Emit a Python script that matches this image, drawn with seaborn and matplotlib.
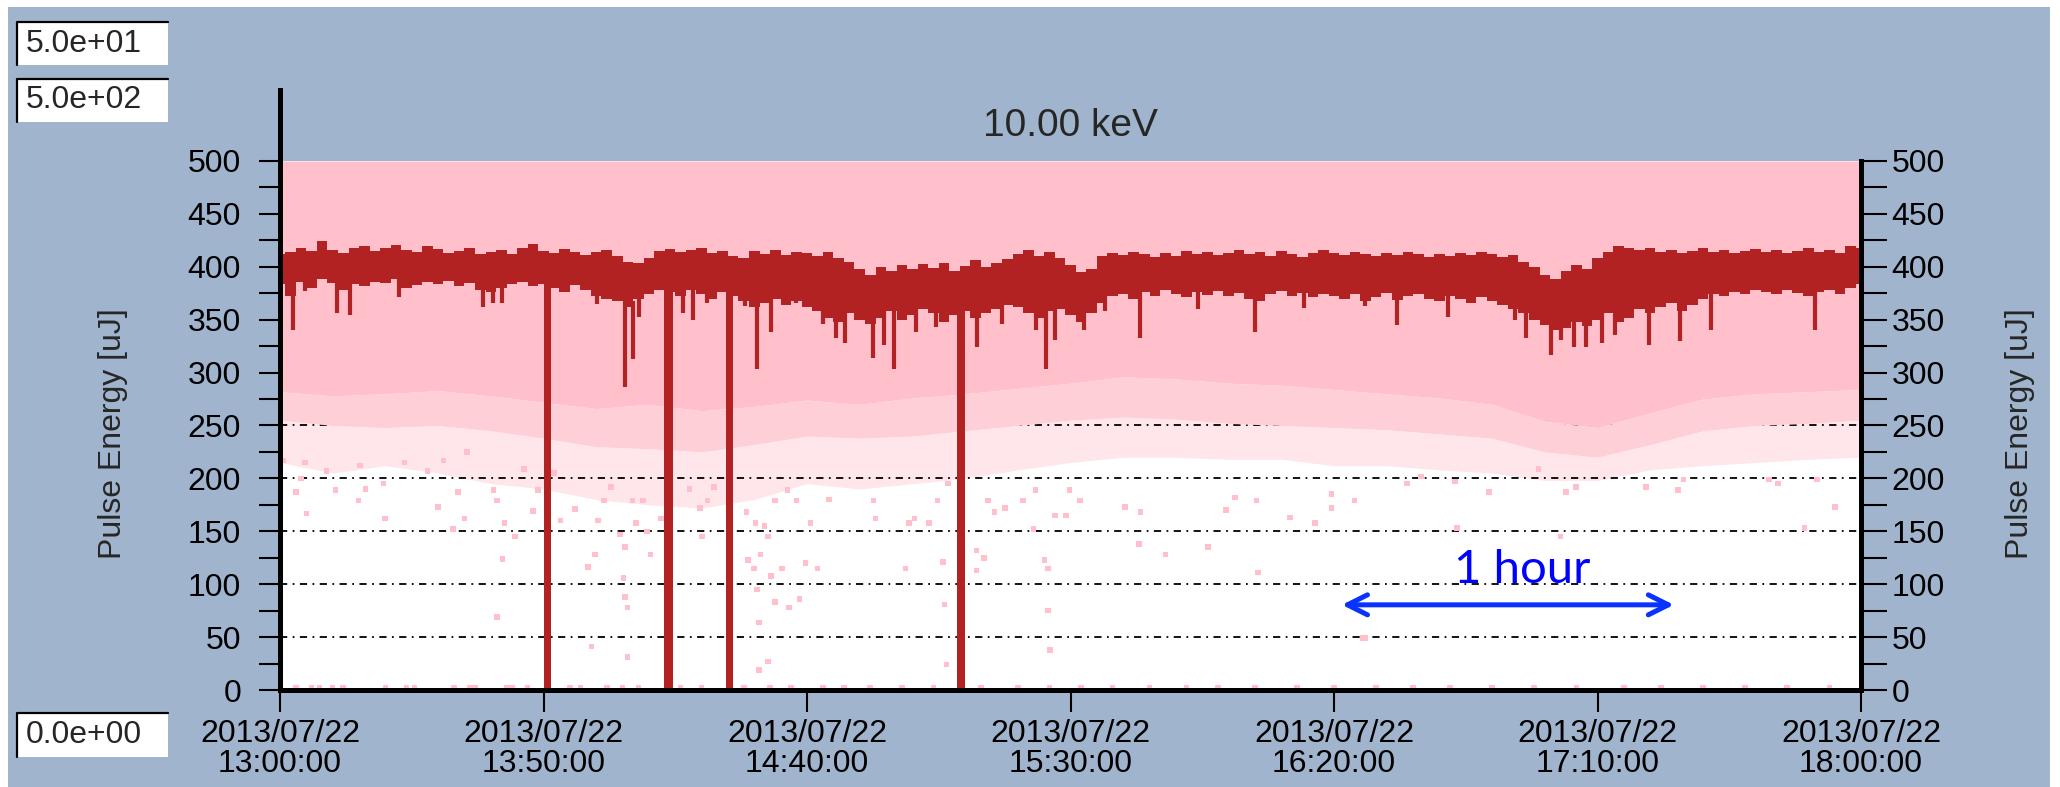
import numpy as np
import pandas as pd
import matplotlib
matplotlib.use("Agg")
import matplotlib.pyplot as plt
from matplotlib.patches import Rectangle
from matplotlib.lines import Line2D
import seaborn as sns

# ---------------------------------------------------------------- data
# time axis in minutes after 2013/07/22 13:00:00
x_ticks = [0, 50, 100, 150, 200, 250, 300]
x_labels = ["2013/07/22\n13:00:00", "2013/07/22\n13:50:00", "2013/07/22\n14:40:00",
            "2013/07/22\n15:30:00", "2013/07/22\n16:20:00", "2013/07/22\n17:10:00",
            "2013/07/22\n18:00:00"]

# running pulse-energy trace (uJ), upper / lower edge every 2 minutes
red_t = list(range(0, 301, 2))
red_hi = [412, 414, 418, 415, 424, 416, 413, 418, 420, 415,
          418, 421, 416, 414, 420, 417, 413, 415, 418, 412,
          414, 416, 412, 418, 422, 415, 413, 417, 414, 411,
          414, 416, 410, 405, 404, 408, 415, 417, 414, 416,
          418, 413, 415, 410, 408, 415, 412, 416, 411, 414,
          413, 410, 414, 408, 405, 398, 392, 400, 396, 402,
          398, 403, 399, 404, 396, 401, 406, 400, 404, 407,
          412, 416, 410, 414, 408, 402, 395, 398, 410, 413,
          411, 414, 412, 409, 413, 410, 415, 412, 414, 411,
          413, 416, 412, 414, 410, 415, 412, 409, 413, 416,
          413, 411, 414, 412, 410, 413, 411, 414, 412, 409,
          412, 410, 413, 411, 414, 412, 409, 411, 405, 400,
          392, 388, 396, 402, 398, 408, 414, 420, 418, 416,
          418, 414, 416, 413, 415, 418, 414, 416, 413, 415,
          417, 414, 416, 413, 415, 418, 414, 416, 413, 420,
          418]
red_lo = [384, 372, 386, 380, 388, 385, 378, 384, 382, 386,
          385, 388, 380, 383, 386, 384, 387, 382, 385, 378,
          376, 380, 384, 386, 382, 384, 380, 376, 383, 378,
          372, 370, 368, 362, 370, 374, 378, 376, 372, 378,
          374, 370, 376, 372, 368, 362, 366, 370, 364, 368,
          362, 358, 352, 348, 356, 350, 346, 352, 358, 350,
          354, 360, 356, 348, 354, 358, 352, 356, 360, 364,
          362, 356, 352, 358, 360, 354, 348, 356, 366, 372,
          374, 370, 376, 372, 378, 374, 371, 376, 373, 377,
          372, 375, 370, 368, 374, 377, 372, 375, 371, 374,
          372, 370, 374, 368, 371, 375, 369, 372, 374, 370,
          368, 372, 370, 366, 371, 368, 364, 360, 356, 350,
          345, 340, 342, 348, 344, 350, 356, 348, 352, 360,
          356, 362, 366, 358, 364, 370, 374, 372, 376, 374,
          378, 376, 374, 378, 375, 372, 376, 378, 374, 380,
          384]

# short downward excursions of the trace (time, lowest value)
spike_t = [2.4, 4.7, 10.8, 13.2, 22.6, 38.5, 40.5, 42.2, 60.1, 65.5, 66.9, 68.2,
           76.4, 78.4, 81.0, 88.2, 90.5, 93.2, 98.0, 103.0, 105.5, 107.2, 112.6,
           114.7, 116.5, 120.7, 124.5, 132.2, 137.0, 143.4, 145.4, 147.1, 152.5,
           156.6, 163.2, 174.1, 185.0, 194.4, 205.9, 211.9, 221.6, 234.3, 236.5,
           241.1, 243.0, 245.6, 247.9, 250.8, 253.4, 259.7, 265.7, 271.5, 291.3]
spike_v = [340, 377, 356, 354, 371, 362, 366, 366, 365, 286, 313, 353,
           356, 350, 366, 363, 303, 338, 366, 346, 333, 328, 314,
           326, 303, 338, 343, 324, 346, 340, 303, 331, 340,
           358, 333, 360, 338, 361, 363, 345, 353, 350, 333,
           317, 331, 324, 324, 328, 336, 326, 330, 340, 340]

# beam-off periods where the trace falls to zero (start, end in minutes)
drop_start = [50.0, 72.8, 84.7, 128.5]
drop_end = [51.4, 74.5, 86.0, 129.9]

# single-shot cloud, every 10 minutes: solid lower edge, speckled edge, sparse edge
pink_t = list(range(0, 301, 10))
pink_floor = [282, 278, 280, 283, 278, 272, 266, 270, 264, 268,
              274, 270, 276, 280, 285, 290, 296, 294, 290, 288,
              284, 280, 276, 270, 254, 248, 262, 275, 280, 282, 284]
pink_mid = [255, 250, 248, 250, 245, 238, 230, 228, 225, 232,
            240, 238, 240, 245, 250, 255, 258, 256, 252, 250,
            248, 246, 242, 238, 225, 220, 232, 245, 250, 252, 255]
pink_fringe = [215, 205, 212, 205, 195, 190, 180, 175, 172, 180,
               195, 190, 195, 200, 208, 215, 220, 220, 218, 218,
               212, 212, 208, 205, 198, 198, 208, 212, 215, 218, 220]

# isolated low shots
scatter_t = [0.7, 4.7, 3.0, 5.0, 4.0, 8.8, 10.5, 14.9, 16.2, 15.2, 19.6, 19.9, 23.6, 28.0,
             30.0, 31.0, 32.8, 33.8, 35.0, 35.5, 40.5, 41.2, 42.2, 42.6, 41.2, 44.6, 46.3,
             48.0, 49.0, 52.0, 53.2, 56.0, 58.4, 59.8, 59.1, 60.3, 61.5, 62.8, 64.5, 65.5,
             65.2, 65.9, 65.9, 65.5, 66.9, 67.6, 68.9, 70.3, 72.3, 69.6, 77.7, 79.7, 80.1,
             81.1, 82.4, 88.5, 88.8, 89.9, 90.5, 90.9, 90.9, 91.2, 92.6, 92.6, 93.2, 93.9,
             95.3, 96.6, 98.6, 99.7, 102.0, 100.7, 98.0, 96.3, 93.9, 91.9, 90.2,
             104.2, 112.6, 113.0, 118.7, 120.4, 119.4, 123.1, 125.8, 126.1, 126.5, 124.8,
             126.8, 132.2, 133.6, 132.2, 134.3, 135.6, 137.6, 141.0, 143.0, 143.4, 145.1,
             145.7, 145.7, 146.1, 147.1, 149.1, 149.8, 151.8, 160.3, 163.0, 163.3, 168.0,
             176.1, 179.5, 181.2, 185.3, 185.6, 191.7, 196.4, 199.5, 199.5, 203.9, 205.5,
             213.9, 216.5, 223.0, 229.4, 238.8, 244.0, 245.9, 259.2, 265.3, 266.3, 282.5,
             284.2, 295.1, 289.3, 243.0, 223.3, 206.0, 291.6]
scatter_v = [217, 215, 187, 167, 200, 207, 189, 179, 190, 212, 195, 162, 215, 207,
             173, 217, 152, 187, 162, 225, 189, 179, 124, 158, 69, 145, 209,
             169, 189, 205, 160, 171, 116, 128, 41, 160, 179, 192, 147, 135,
             106, 78, 31, 88, 179, 158, 179, 128, 162, 150, 190, 172, 145,
             179, 192, 168, 123, 115, 95, 64, 19, 128, 145, 27, 108, 83,
             115, 78, 86, 120, 115, 158, 179, 189, 179, 155, 158,
             180, 179, 162, 115, 162, 158, 158, 121, 81, 24, 179,
             195, 132, 125, 113, 179, 168, 172, 179, 152, 189, 123,
             115, 75, 38, 165, 165, 189, 179, 173, 138, 168, 128,
             135, 170, 182, 179, 111, 163, 158, 185, 172, 179, 49,
             195, 202, 197, 187, 209, 187, 192, 192, 189, 199, 199,
             195, 173, 153, 145, 153, 49, 199]

# shots recorded at zero energy
zero_t = [3, 6, 7.5, 10, 12, 20, 24, 25.5, 33, 36, 37, 43, 44, 47, 55, 57, 62, 65,
          68, 76, 80, 88, 93, 97, 103, 107, 112, 118, 124, 133, 140, 146, 152, 158,
          165, 172, 178, 185, 193, 200, 208, 215, 222, 230, 238, 246, 255, 262, 270,
          278, 286, 294]
zero_v = [2] * len(zero_t)

# ---------------------------------------------------------------- style
sns.set_theme(style="white")
plt.rcParams["font.family"] = ["Liberation Sans", "DejaVu Sans"]

BG = "#A0B5CD"
PINK = "#FFC0CB"
PINK_MID = "#FFCFD7"
PINK_PALE = "#FFE6EA"
RED = "#B22222"
BLUE = "#0A32FF"

W, H = 2060, 787


def fx(px):
    return px / W


def fy(py):
    return 1 - py / H


fig = plt.figure(figsize=(W / 100, H / 100), dpi=100, facecolor="white")
fig.patches.append(Rectangle((fx(8), 0), fx(2050) - fx(8), fy(7), transform=fig.transFigure,
                             facecolor=BG, edgecolor="none", zorder=-10))

YTOP = 567.1
ax = fig.add_axes([fx(280), fy(690), fx(1861) - fx(280), fy(90) - fy(690)])
ax.set_facecolor("none")
ax.axhspan(0, 500, color="white", lw=0, zorder=0)

# single-shot cloud: sparse fringe, speckled band, solid core
ax.fill_between(pink_t, pink_fringe, pink_mid, color=PINK_PALE, lw=0, zorder=1)
ax.fill_between(pink_t, pink_mid, pink_floor, color=PINK_MID, lw=0, zorder=1.7)
ax.fill_between(pink_t, pink_floor, 500, color=PINK, lw=0, zorder=2)

# dash-dot reference levels (hidden where the cloud is dense)
for lvl in range(50, 500, 50):
    ax.axhline(lvl, color="black", lw=1.3, ls=(0, (4, 3, 1, 3)), zorder=1.5)

shots = pd.DataFrame({"t": scatter_t + zero_t, "v": scatter_v + zero_v})
sns.scatterplot(data=shots, x="t", y="v", marker="s", s=16, color=PINK, edgecolor="none",
                linewidth=0, ax=ax, zorder=3, legend=False)

# averaged trace
ax.fill_between(red_t, red_lo, red_hi, step="mid", color=RED, lw=0, zorder=4)
red_lo_arr = np.array(red_lo)
spike_top = [red_lo_arr[int(round(t / 2))] + 6 for t in spike_t]
ax.vlines(spike_t, spike_v, spike_top, color=RED, lw=3.0, zorder=4)
drop_mid = [(a + b) / 2 for a, b in zip(drop_start, drop_end)]
drop_w = [b - a for a, b in zip(drop_start, drop_end)]
drop_h = [red_lo_arr[int(round(m / 2))] + 6 for m in drop_mid]
ax.bar(drop_mid, drop_h, width=drop_w, color=RED, lw=0, zorder=4)

# one-hour scale marker
ax.annotate("", xy=(201.5, 80.5), xytext=(264.5, 80.5),
            arrowprops=dict(arrowstyle="<->", color=BLUE, lw=3.6, mutation_scale=36,
                            shrinkA=0, shrinkB=0), zorder=6)
ax.text(235.8, 101, "1 hour", ha="center", va="baseline", color="#0000FF",
        fontsize=34, family=["Lato", "DejaVu Sans"], zorder=6)

# axes, ticks, labels
ax.set_xlim(0, 300)
ax.set_ylim(0, YTOP)
ax.set_xlabel("")
ax.set_ylabel("")
yt = list(range(0, 501, 25))
ylabs = [str(v) if v % 50 == 0 else "" for v in yt]
ax.set_xticks(x_ticks)
ax.set_xticklabels(x_labels, fontsize=23, linespacing=1.0, color="black")
ax.set_yticks(yt)
ax.set_yticklabels(ylabs, fontsize=23, color="black")
ax.tick_params(axis="x", bottom=True, direction="out", length=16, width=1.5, pad=5,
               color="black")
ax.tick_params(axis="y", left=True, right=False, direction="out", length=15, width=1.5,
               pad=13, color="black")
for side in ("top", "right"):
    ax.spines[side].set_visible(False)
for side in ("left", "bottom"):
    ax.spines[side].set_color("black")
    ax.spines[side].set_linewidth(3.6)
    ax.spines[side].set_zorder(5)

twin = ax.twinx()
twin.set_ylim(0, YTOP)
twin.set_yticks(yt)
twin.set_yticklabels(ylabs, fontsize=23, color="black")
twin.tick_params(axis="y", right=True, left=False, direction="out", length=19, width=1.5,
                 pad=3, color="black")
for side in ("top", "left", "bottom"):
    twin.spines[side].set_visible(False)
twin.spines["right"].set_bounds(0, 500)
twin.spines["right"].set_color("black")
twin.spines["right"].set_linewidth(3.6)
twin.patch.set_visible(False)

fig.text(fx(1070), fy(126), "10.00 keV", ha="center", va="center", fontsize=28)
fig.text(fx(113), fy(434), "Pulse Energy [uJ]", rotation=90, ha="center", va="center",
         fontsize=23)
fig.text(fx(2020), fy(434), "Pulse Energy [uJ]", rotation=90, ha="center", va="center",
         fontsize=23)

# value fields
for y0, y1, txt in [(22, 65, "5.0e+01"), (79, 122, "5.0e+02"), (713, 757, "0.0e+00")]:
    fig.patches.append(Rectangle((fx(17), fy(y1)), fx(168) - fx(17), fy(y0) - fy(y1),
                                 transform=fig.transFigure, facecolor="white",
                                 edgecolor="none"))
    fig.lines.append(Line2D([fx(17), fx(17), fx(168)], [fy(y1), fy(y0), fy(y0)],
                            transform=fig.transFigure, color="black", lw=1.6))
    fig.text(fx(26), fy((y0 + y1) / 2), txt, ha="left", va="center", fontsize=23)

fig.savefig("out.png", dpi=100, facecolor="white")
